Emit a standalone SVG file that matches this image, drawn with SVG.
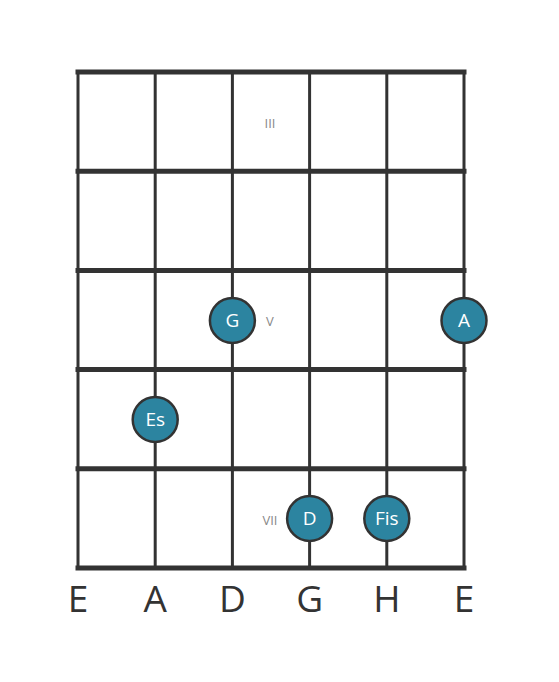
<svg xmlns="http://www.w3.org/2000/svg" width="559" height="682" viewBox="0 0 559 682">
<style>
.h{stroke:#333;stroke-width:5;stroke-linecap:square}
.v{stroke:#333;stroke-width:3}
.note circle{fill:#2c84a0;stroke:#333;stroke-width:2.5}
.note text{fill:#fff;font-family:"Open Sans",sans-serif;font-size:19px;text-anchor:middle}
.fret{fill:#888;font-family:"Open Sans",sans-serif;font-size:13px;text-anchor:middle}
.str{fill:#333;font-family:"Open Sans",sans-serif;font-size:37px;text-anchor:middle}
</style>
<rect width="559" height="682" fill="#fff"/>
<g id="grid">
<line class="v" x1="78" y1="72" x2="78" y2="568"/>
<line class="v" x1="155.2" y1="72" x2="155.2" y2="568"/>
<line class="v" x1="232.4" y1="72" x2="232.4" y2="568"/>
<line class="v" x1="309.6" y1="72" x2="309.6" y2="568"/>
<line class="v" x1="386.8" y1="72" x2="386.8" y2="568"/>
<line class="v" x1="464" y1="72" x2="464" y2="568"/>
<line class="h" x1="78" y1="72" x2="464" y2="72"/>
<line class="h" x1="78" y1="171.2" x2="464" y2="171.2"/>
<line class="h" x1="78" y1="270.4" x2="464" y2="270.4"/>
<line class="h" x1="78" y1="369.6" x2="464" y2="369.6"/>
<line class="h" x1="78" y1="468.8" x2="464" y2="468.8"/>
<line class="h" x1="78" y1="568" x2="464" y2="568"/>
</g>
<g id="frets">
<text class="fret" x="270" y="128">III</text>
<text class="fret" x="270" y="326">V</text>
<text class="fret" x="270" y="525">VII</text>
</g>
<g id="note-G" class="note"><circle cx="232.4" cy="320.5" r="22.5"/><text x="232.4" y="326.5">G</text></g>
<g id="note-A" class="note"><circle cx="464" cy="320.5" r="22.5"/><text x="464" y="326.5">A</text></g>
<g id="note-Es" class="note"><circle cx="155.2" cy="419.5" r="22.5"/><text x="155.2" y="425.5">Es</text></g>
<g id="note-D" class="note"><circle cx="309.6" cy="518.5" r="22.5"/><text x="309.6" y="524.5">D</text></g>
<g id="note-Fis" class="note"><circle cx="386.8" cy="518.5" r="22.5"/><text x="386.8" y="524.5">Fis</text></g>
<g id="strings">
<text class="str" x="78" y="611.5">E</text>
<text class="str" x="155.2" y="611.5">A</text>
<text class="str" x="232.4" y="611.5">D</text>
<text class="str" x="309.6" y="611.5">G</text>
<text class="str" x="386.8" y="611.5">H</text>
<text class="str" x="464" y="611.5">E</text>
</g>
</svg>
